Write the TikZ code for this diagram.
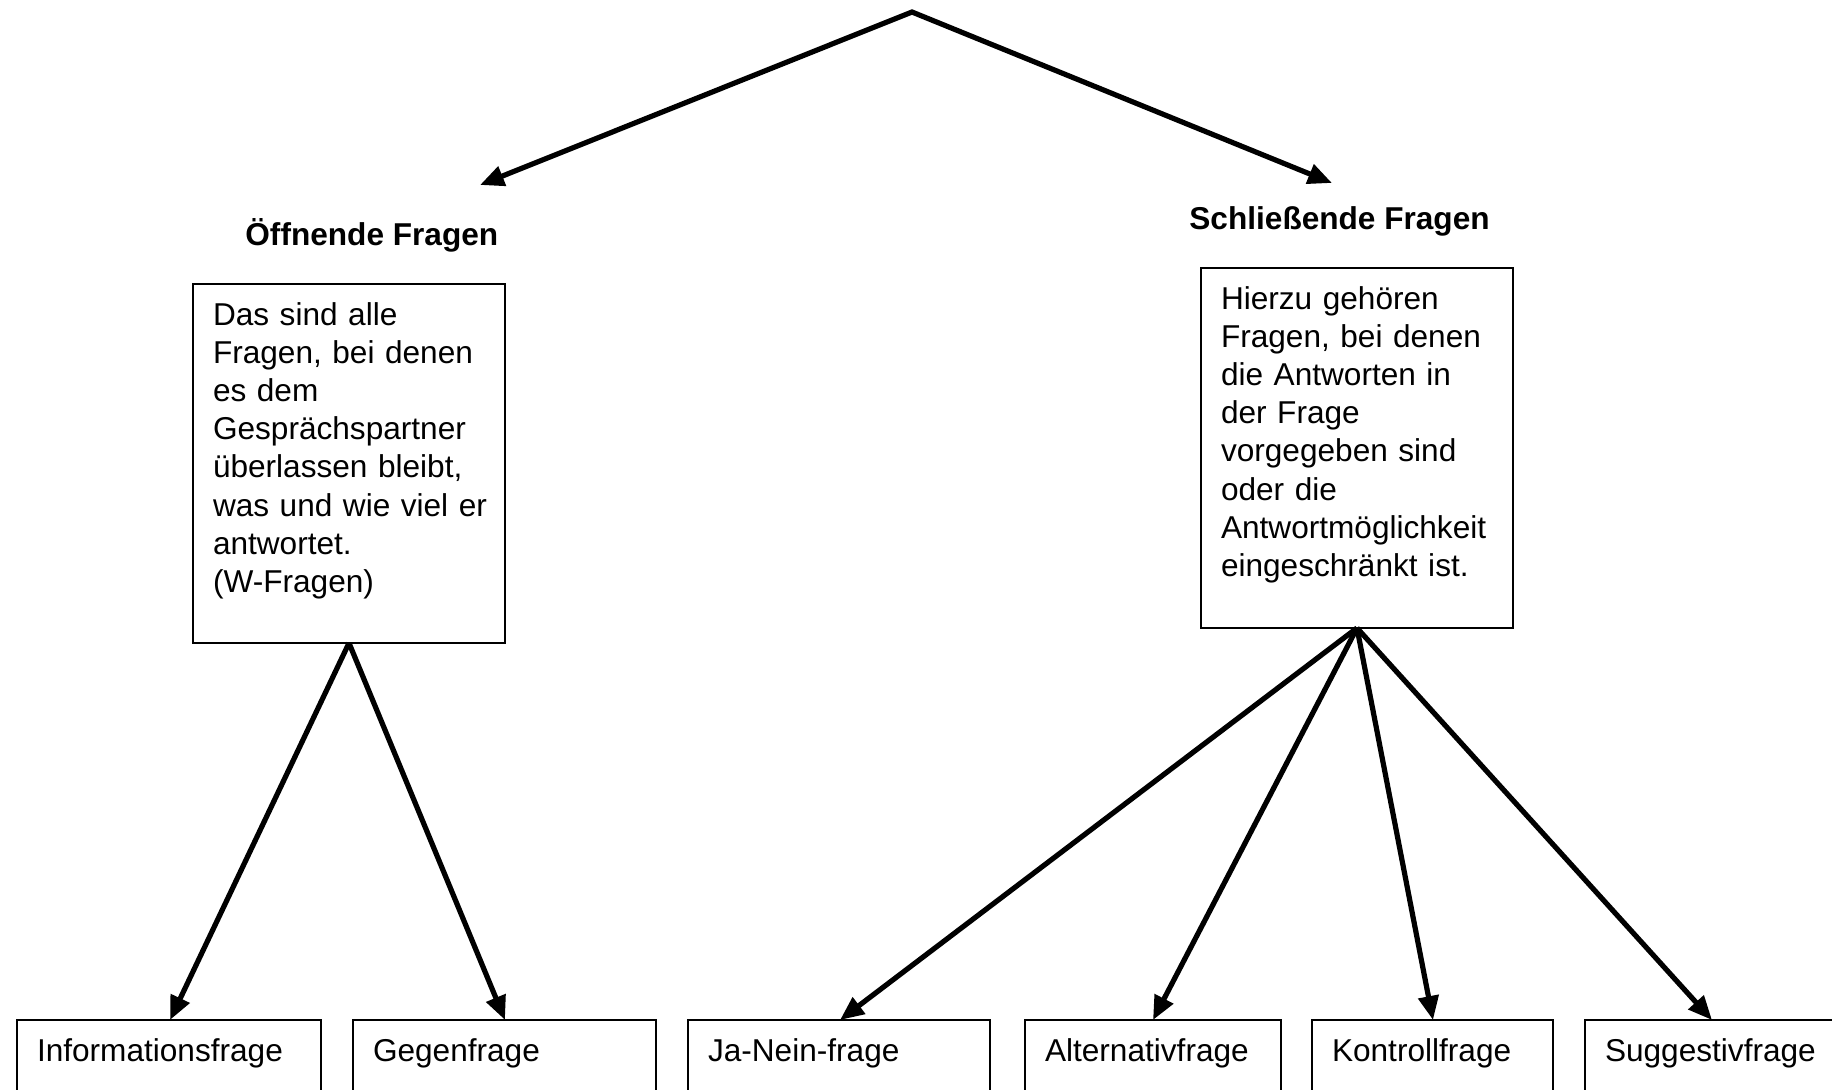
\documentclass[tikz,border=0pt]{standalone}
\usepackage{fontspec}
\setmainfont{Liberation Sans}
\usetikzlibrary{arrows.meta,calc}
\begin{document}
\begin{tikzpicture}[x=0.5pt,y=-0.5pt,
  txt/.style={font=\fontsize{15.8pt}{19.1pt}\selectfont},
  descbox/.style={txt,draw,line width=1pt,anchor=north west,align=left,
    inner xsep=10pt,inner ysep=0pt,text width=136pt,text height=20.5pt,outer sep=0pt},
  leafbox/.style={txt,draw,line width=1pt,anchor=north west,align=left,
    inner xsep=10pt,inner ysep=0pt,text height=20.5pt,text depth=40pt,outer sep=0pt},
  titletext/.style={font=\fontsize{15.8pt}{19.1pt}\selectfont\bfseries,anchor=base west,inner sep=0pt},
  arr/.style={line width=2.6pt,-{Triangle[length=12pt,width=10pt]}},
  arrboth/.style={line width=2.6pt,line join=miter,{Triangle[length=12pt,width=10pt]}-{Triangle[length=12pt,width=10pt]}},
]
\useasboundingbox (0,0) rectangle (1832,1089);
\clip (0,0) rectangle (1832,1089);

% titles
\node[titletext] (toeff) at (245,245) {Öffnende Fragen};
\node[titletext] (tschl) at (1189,229) {Schließende Fragen};

% description boxes
\node[descbox,text depth=159pt] (lbox) at (193,284)
  {Das sind alle\\Fragen, bei denen\\es dem\\Gesprächspartner\\überlassen bleibt,\\\mbox{was und wie viel er}\\antwortet.\\(W-Fragen)};
\node[descbox,text depth=159.5pt] (rbox) at (1201,268)
  {Hierzu gehören\\Fragen, bei denen\\die Antworten in\\der Frage\\vorgegeben sind\\oder die\\\mbox{Antwortmöglichkeit}\\eingeschränkt ist.};

% leaf boxes
\node[leafbox,text width=132pt]   (b1) at (17,1020)   {Informationsfrage};
\node[leafbox,text width=131.5pt] (b2) at (353,1020)  {Gegenfrage};
\node[leafbox,text width=131pt]   (b3) at (688,1020)  {Ja-Nein-frage};
\node[leafbox,text width=108pt]   (b4) at (1025,1020) {Alternativfrage};
\node[leafbox,text width=100.5pt] (b5) at (1312,1020) {Kontrollfrage};
\node[leafbox,text width=130pt]   (b6) at (1585,1020) {Suggestivfrage};

% top arrows
\coordinate (apex) at (912,12);
\coordinate (tl) at (480,185);
\coordinate (tr) at (1332,183);
\draw[arrboth] (tl) -- (apex) -- (tr);

% lower arrows
\draw[arr] (lbox.south) -- ($(b1.north west)+(153,0)$);
\draw[arr] (lbox.south) -- ($(b2.north west)+(152,0)$);
\draw[arr] (rbox.south) -- ($(b3.north west)+(152,0)$);
\draw[arr] (rbox.south) -- ($(b4.north west)+(128,0)$);
\draw[arr] (rbox.south) -- ($(b5.north west)+(121,0)$);
\draw[arr] (rbox.south) -- ($(b6.north west)+(127,0)$);
\end{tikzpicture}
\end{document}
